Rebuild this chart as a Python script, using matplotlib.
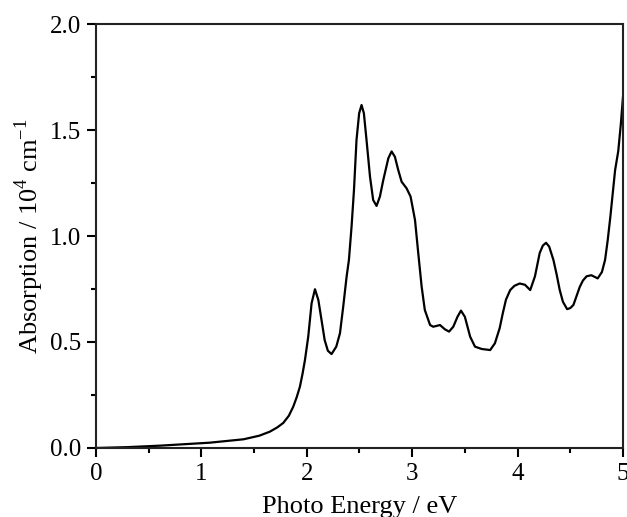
import numpy as np
import matplotlib
matplotlib.use('Agg')
import matplotlib.pyplot as plt
from matplotlib.ticker import MultipleLocator

# Photon energy (eV) and absorption (10^4 cm^-1)
energy = [0.0, 0.3, 0.61, 1.08, 1.40, 1.55, 1.65, 1.72, 1.777, 1.83, 1.872, 1.905,
          1.935, 1.96, 1.983, 2.014, 2.046, 2.078, 2.11, 2.14, 2.17, 2.20,
          2.235, 2.28, 2.315, 2.346, 2.378, 2.40, 2.425, 2.448, 2.472, 2.497,
          2.52, 2.542, 2.567, 2.60, 2.63, 2.662, 2.694, 2.726, 2.774, 2.805,
          2.836, 2.868, 2.90, 2.947, 2.985, 3.01, 3.027, 3.058, 3.09, 3.12,
          3.17, 3.20, 3.264, 3.31, 3.35, 3.39, 3.43, 3.463, 3.50, 3.55, 3.596,
          3.66, 3.74, 3.785, 3.83, 3.86, 3.89, 3.93, 3.97, 4.02, 4.07, 4.12,
          4.165, 4.21, 4.24, 4.27, 4.30, 4.34, 4.37, 4.40, 4.43, 4.47, 4.50,
          4.53, 4.59, 4.62, 4.655, 4.70, 4.76, 4.80, 4.83, 4.855, 4.88, 4.925,
          4.955, 4.98, 5.0]
absorption = [0.0, 0.004, 0.011, 0.025, 0.041, 0.058, 0.077, 0.097, 0.118, 0.152,
              0.195, 0.24, 0.289, 0.35, 0.415, 0.525, 0.683, 0.749, 0.698, 0.604,
              0.509, 0.459, 0.443, 0.478, 0.541, 0.667, 0.808, 0.887, 1.044,
              1.217, 1.453, 1.579, 1.618, 1.579, 1.453, 1.28, 1.17, 1.142, 1.186,
              1.264, 1.367, 1.399, 1.374, 1.311, 1.256, 1.225, 1.186, 1.12, 1.075,
              0.918, 0.761, 0.651, 0.58, 0.572, 0.58, 0.56, 0.549, 0.572, 0.619,
              0.648, 0.619, 0.525, 0.478, 0.467, 0.462, 0.494, 0.565, 0.636, 0.70,
              0.745, 0.765, 0.776, 0.77, 0.745, 0.81, 0.92, 0.955, 0.968, 0.95,
              0.887, 0.82, 0.745, 0.69, 0.655, 0.66, 0.675, 0.76, 0.79, 0.81,
              0.815, 0.80, 0.83, 0.887, 0.98, 1.09, 1.31, 1.40, 1.53, 1.657]

plt.rcParams['font.family'] = ['Liberation Serif', 'DejaVu Serif']
plt.rcParams['mathtext.fontset'] = 'custom'
plt.rcParams['mathtext.rm'] = 'Liberation Serif'

fig = plt.figure(figsize=(6.27, 5.17), dpi=100)
ax = fig.add_axes([0.153, 0.1335, 0.8406, 0.82])

ax.plot(energy, absorption, color='black', linewidth=1.6)

ax.set_xlim(0, 5)
ax.set_ylim(0, 2.0)
ax.xaxis.set_major_locator(MultipleLocator(1))
ax.xaxis.set_minor_locator(MultipleLocator(0.5))
ax.yaxis.set_major_locator(MultipleLocator(0.5))
ax.yaxis.set_minor_locator(MultipleLocator(0.25))
ax.set_yticks([0, 0.5, 1.0, 1.5, 2.0], ['0.0', '0.5', '1.0', '1.5', '2.0'])

ax.tick_params(which='both', direction='out', top=False, right=False,
               width=1.5, labelsize=18, colors='black')
ax.tick_params(which='major', length=6.5, pad=4)
ax.tick_params(which='minor', length=3.8)
for s in ax.spines.values():
    s.set_linewidth(1.5)
    s.set_color('#222222')

ax.set_xlabel('Photo Energy / eV', fontsize=19, labelpad=8)
ax.set_ylabel(r'Absorption / 10$^{4}$ cm$^{-1}$', fontsize=19, labelpad=3)

fig.savefig('out.png', dpi=100)
